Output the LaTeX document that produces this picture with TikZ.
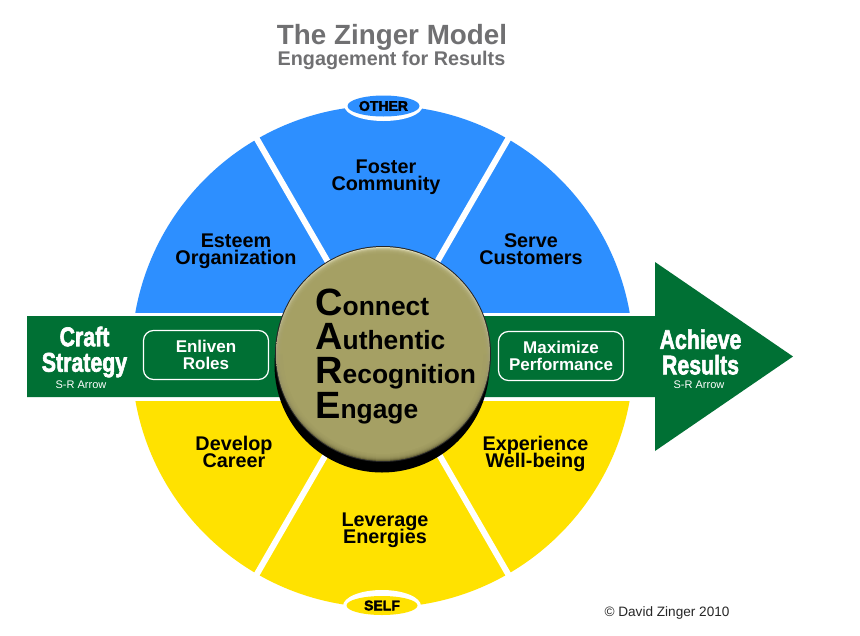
\documentclass[tikz,border=0pt]{standalone}
\usepackage{fontspec}
\setmainfont{Liberation Sans}
\newfontfamily\heavyfont[BoldFeatures={FakeBold=2.5}]{Liberation Sans}
\usetikzlibrary{shapes.geometric}
\definecolor{zblue}{RGB}{45,143,255}
\definecolor{zyellow}{RGB}{255,226,0}
\definecolor{zgreen}{RGB}{0,112,52}
\definecolor{zgold}{RGB}{165,160,100}
\definecolor{zgoldlt}{RGB}{222,218,180}
\definecolor{zgolddk}{RGB}{105,100,55}
\definecolor{zgrey}{RGB}{112,112,114}
\AtBeginDocument{\lineskiplimit=-100pt\relax}
\tikzset{x=1pt,y=-1pt,
 seglabel/.style={font=\fontsize{19.8}{17}\selectfont\bfseries,align=center,text=black,inner sep=0pt},
 strat/.style={font=\heavyfont\bfseries\fontsize{27}{25.5}\selectfont,align=center,text=white,inner sep=0pt,xscale=.79},
 sr/.style={font=\fontsize{11}{12}\selectfont,text=white,inner sep=0pt},
 rolebox/.style={draw=white,line width=1.2pt,rounded corners=10pt,minimum width=125pt,minimum height=49pt,
   font=\fontsize{17}{16.5}\selectfont\bfseries,align=center,text=white,inner sep=0pt},
 tag/.style={ellipse,font=\heavyfont\bfseries\fontsize{14}{14}\selectfont,inner sep=0pt},
 care/.style={font=\fontsize{26.4}{27}\selectfont\bfseries,anchor=base west,inner sep=0pt},
}
\newcommand{\capl}[1]{{\fontsize{38}{38}\selectfont #1}}
\begin{document}
\begin{tikzpicture}
\useasboundingbox (0,0) rectangle (860,635);
\fill[white] (0,0) rectangle (860,635);
\coordinate (C) at (382.5,356.5);
% discs
\begin{scope}
\clip (0,0) rectangle (860,312);
\fill[zblue] (C) circle (251);
\end{scope}
\begin{scope}
\clip (0,401) rectangle (860,635);
\fill[zyellow] (C) circle (251);
\end{scope}
% spokes
\foreach \a in {60,120,240,300}
  \draw[white,line width=6pt] (C) -- ++(\a:-262);
% tags
\node[tag,fill=white,minimum width=78pt,minimum height=30pt] (oo) at (383.5,106) {};
\node[tag,fill=zblue,minimum width=72pt,minimum height=21pt] (other) at (383.5,106) {OTHER};
\node[tag,fill=white,minimum width=78pt,minimum height=32pt] (ss) at (382,606) {};
\node[tag,fill=zyellow,minimum width=71pt,minimum height=19pt] (self) at (382,605.5) {SELF};
% arrow
\fill[zgreen] (27,316) -- (655,316) -- (655,262) -- (793,356.5) -- (655,451) -- (655,397) -- (27,397) -- cycle;
% titles
\node[font=\fontsize{27.8}{30}\selectfont\bfseries,text=zgrey,inner sep=0pt] (title) at (392,37) {The Zinger Model};
\node[font=\fontsize{19.8}{20}\selectfont\bfseries,text=zgrey,inner sep=0pt] (sub) at (391.5,60) {Engagement for Results};
% labels
\node[seglabel] (a) at (386,177) {Foster\\Community};
\node[seglabel] (b) at (236,251.5) {Esteem\\Organization};
\node[seglabel] (c) at (531,249) {Serve\\Customers};
\node[seglabel] (d) at (234,452) {Develop\\Career};
\node[seglabel] (e) at (535.5,454) {Experience\\Well-being};
\node[seglabel] (f) at (385,530) {Leverage\\Energies};
\node[rolebox] (r1) at (206,355) {Enliven\\Roles};
\node[rolebox] (r2) at (561,356) {Maximize\\Performance};
\node[strat] (s1) at (84.5,352) {Craft\\Strategy};
\node[sr] (s1b) at (81,385) {S-R Arrow};
\node[strat] (s2) at (700.5,352) {Achieve\\Results};
\node[sr] (s2b) at (699,385) {S-R Arrow};
% centre
\fill[black] (382,365) circle (107.5);
\fill[black!85] (383,354) circle (108);
\shade[top color=zgoldlt,bottom color=zgolddk] (383,354) circle (107);
\foreach \r in {106,105,104,103,102,101}
  \fill[zgold,opacity=.4] (383,354) circle (\r);
\fill[zgold] (383,354) circle (100);
\node[care] (c1) at (315,315) {\capl{C}onnect};
\node[care] (c2) at (315,349) {\capl{A}uthentic};
\node[care] (c3) at (315,383.5) {\capl{R}ecognition};
\node[care] (c4) at (315,418) {\capl{E}ngage};
\node[font=\fontsize{13.6}{14}\selectfont,text=black!85,inner sep=0pt] (cp) at (667,612.5) {© David Zinger 2010};
\end{tikzpicture}
\end{document}
